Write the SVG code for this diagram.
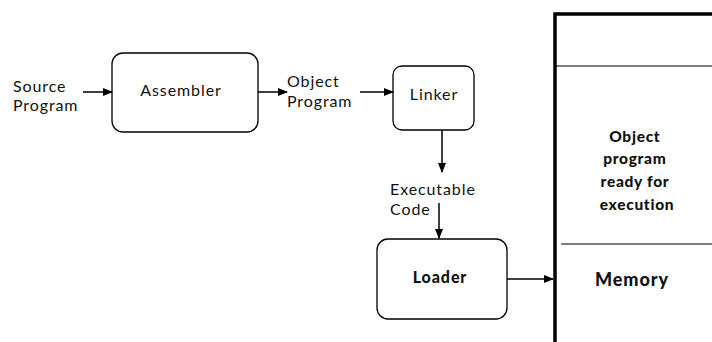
<svg xmlns="http://www.w3.org/2000/svg" width="712" height="342" viewBox="0 0 712 342">
<defs>
<marker id="ah" markerWidth="10" markerHeight="8" refX="9" refY="4" orient="auto" markerUnits="userSpaceOnUse">
<path d="M0,0 L10,4 L0,8 Z" fill="#000"/>
</marker>
<style>
.box{fill:#fff;stroke:#000;stroke-width:1.3}
.t{font-family:Lato,"Open Sans",sans-serif;font-size:16px;letter-spacing:0.9px;fill:#111}
.b{font-weight:bold}
.c{stroke:#000;stroke-width:1.5;fill:none;marker-end:url(#ah)}
</style>
</defs>
<rect width="712" height="342" fill="#fff"/>
<g id="source">
<text class="t" x="13" y="91.5">Source</text>
<text class="t" x="13" y="111">Program</text>
</g>
<g id="assembler">
<rect class="box" x="112" y="53" width="146" height="79" rx="11"/>
<text class="t" x="181" y="96" text-anchor="middle">Assembler</text>
</g>
<g id="objprog">
<text class="t" x="287" y="87">Object</text>
<text class="t" x="287" y="106.5">Program</text>
</g>
<g id="linker">
<rect class="box" x="393" y="66" width="81" height="64" rx="9"/>
<text class="t" x="434" y="100" text-anchor="middle">Linker</text>
</g>
<g id="execcode">
<text class="t" x="390" y="195">Executable</text>
<text class="t" x="390" y="214.5">Code</text>
</g>
<g id="loader">
<rect class="box" x="377" y="239" width="130" height="80" rx="11"/>
<text class="t b" x="440" y="283" text-anchor="middle" style="font-weight:900">Loader</text>
</g>
<g id="memory">
<path d="M555,342 L555,14 L712,14" fill="none" stroke="#000" stroke-width="3.5"/>
<line x1="556" y1="66" x2="712" y2="66" stroke="#000" stroke-width="1"/>
<line x1="561" y1="244" x2="712" y2="244" stroke="#000" stroke-width="1"/>
<text class="t b" text-anchor="middle" style="font-size:15.5px;letter-spacing:0.7px;font-weight:900">
<tspan x="637" y="142">Object</tspan>
<tspan x="637" y="164">program</tspan>
<tspan x="637" y="187">ready for</tspan>
<tspan x="637" y="210">execution</tspan>
</text>
<text class="t b" x="632" y="286" text-anchor="middle" style="font-size:18px;font-weight:900">Memory</text>
</g>
<g id="connectors">
<line class="c" x1="83" y1="92" x2="112" y2="92"/>
<line class="c" x1="258" y1="92" x2="287" y2="92"/>
<line class="c" x1="360" y1="92" x2="393" y2="92"/>
<line class="c" x1="442" y1="130" x2="442" y2="172"/>
<line class="c" x1="439" y1="203" x2="439" y2="238"/>
<line class="c" x1="507" y1="279" x2="553" y2="279"/>
</g>
</svg>
